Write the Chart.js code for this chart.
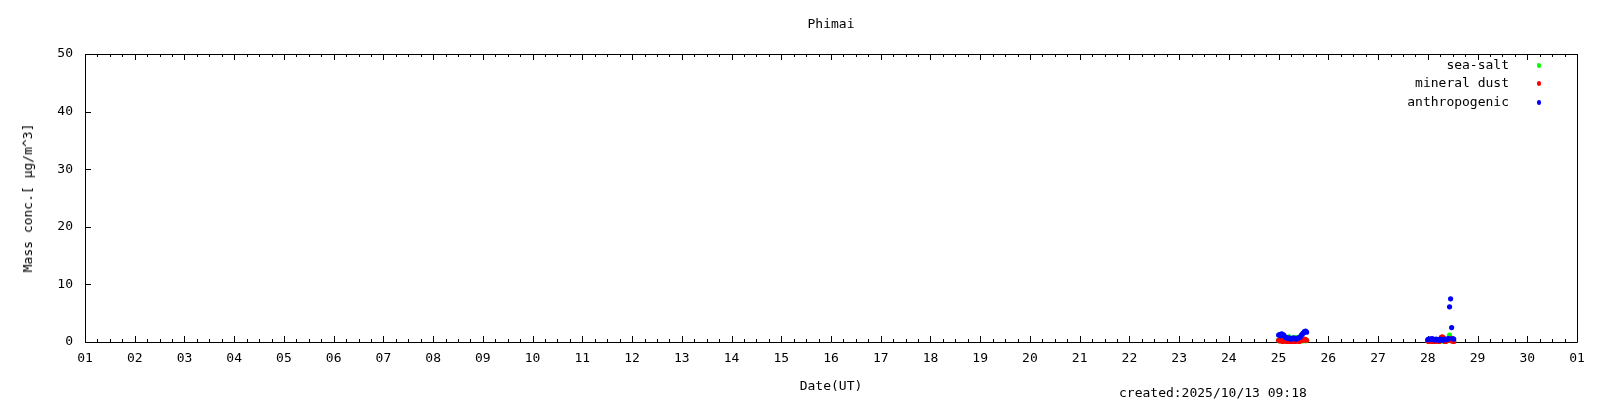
<!DOCTYPE html>
<html>
<head>
<meta charset="utf-8">
<script src="https://cdn.jsdelivr.net/npm/chart.js@4/dist/chart.umd.min.js"></script>
<style>
  html, body { margin: 0; padding: 0; background: #fff; }
  #wrap { position: relative; width: 1600px; height: 400px; overflow: hidden; font-family: "DejaVu Sans Mono", monospace; font-size: 13px; color: #000; }
  canvas { position: absolute; left: 0; top: 0; }
  .t { position: absolute; white-space: nowrap; line-height: 14px; }
  .dot { position: absolute; width: 4px; height: 5px; border-radius: 2px; }
</style>
</head>
<body>
<div id="wrap">
  <canvas id="c" width="1600" height="400"></canvas>
  <div class="t" id="title" style="left:831px; top:17px; transform:translateX(-50%);">Phimai</div>
  <div class="t" id="ytitle" style="left:28px; top:198px; transform:translate(-50%,-50%) rotate(-90deg);">Mass conc.[ μg/m^3]</div>
  <div class="t" id="xtitle" style="left:831px; top:379px; transform:translateX(-50%);">Date(UT)</div>
  <div class="t" id="created" style="left:1119px; top:386px;">created:2025/10/13 09:18</div>
  <div id="legend"></div>
</div>
<script>
// ---- Data (day of month, September 2025; 31 = Oct 01) ----
const categoriesDays = [1, 31];            // x range: Sep 01 .. Oct 01
const seriesNames = ['sea-salt', 'mineral dust', 'anthropogenic'];
const seriesColors = ['#00ff00', '#ff0000', '#0000ff'];

// cluster 1: 25.0 .. 25.5625 (30-min steps)
const times1 = [25.0000,25.0208,25.0417,25.0625,25.0833,25.1042,25.1250,25.1458,25.1667,25.1875,25.2083,25.2292,25.2500,25.2708,25.2917,25.3125,25.3333,25.3542,25.3750,25.3958,25.4167,25.4375,25.4583,25.4792,25.5000,25.5208,25.5417,25.5625];
const anthro1  = [1.2,1.3,1.1,1.4,1.3,1.2,0.9,0.8,0.7,0.6,0.7,0.6,0.5,0.6,0.7,0.6,0.6,0.5,0.6,0.7,0.8,0.9,1.2,1.4,1.6,1.8,1.9,1.7];
const dust1    = [0.3,0.2,0.3,0.2,0.1,0.2,0.3,0.2,0.1,0.2,0.1,0.2,0.2,0.1,0.3,0.2,0.1,0.2,0.3,0.2,0.1,0.2,0.3,0.4,0.3,0.5,0.4,0.3];
const seasalt1 = [0.3,0.2,0.3,0.2,0.3,0.2,0.3,0.3,0.4,0.5,0.9,0.4,0.3,0.3,0.4,0.5,0.8,0.4,0.3,0.3,0.2,0.3,0.3,0.2,0.3,0.3,0.2,0.3];

// cluster 2: 28.0 .. 28.5208 (30-min steps)
const times2 = [28.0000,28.0208,28.0417,28.0625,28.0833,28.1042,28.1250,28.1458,28.1667,28.1875,28.2083,28.2292,28.2500,28.2708,28.2917,28.3125,28.3333,28.3542,28.3750,28.3958,28.4167,28.4375,28.4583,28.4792,28.5000,28.5208];
const anthro2  = [0.4,0.5,0.5,0.4,0.6,0.5,0.4,0.4,0.5,0.4,0.3,0.4,0.5,0.4,0.3,0.4,0.4,0.5,0.4,0.5,0.6,6.1,7.5,2.5,0.6,0.5];
const dust2    = [0.2,0.1,0.2,0.3,0.2,0.1,0.2,0.1,0.2,0.3,0.2,0.1,0.3,0.8,0.9,0.7,0.2,0.1,0.2,0.3,0.5,0.6,0.3,0.2,0.4,0.1];
const seasalt2 = [0.2,0.1,0.2,0.2,0.3,0.2,0.1,0.2,0.2,0.3,0.2,0.1,0.2,0.2,0.3,0.2,0.1,0.2,0.3,0.2,0.3,1.2,0.3,0.2,0.2,0.1];

const yTicks = [0, 10, 20, 30, 40, 50];
const xTickLabels = ['01','02','03','04','05','06','07','08','09','10','11','12','13','14','15','16','17','18','19','20','21','22','23','24','25','26','27','28','29','30','01'];

function pts(ts, vs) { return ts.map((t, i) => ({ x: t, y: vs[i] })); }
const seriesValues = [
  pts(times1, seasalt1).concat(pts(times2, seasalt2)),
  pts(times1, dust1).concat(pts(times2, dust2)),
  pts(times1, anthro1).concat(pts(times2, anthro2))
];

// legend (HTML)
const leg = document.getElementById('legend');
const legY = [58, 76, 95];
seriesNames.forEach((n, i) => {
  const t = document.createElement('div');
  t.className = 't';
  t.textContent = n;
  t.style.right = (1600 - 1509) + 'px';
  t.style.top = legY[i] + 'px';
  leg.appendChild(t);
  const d = document.createElement('div');
  d.className = 'dot';
  d.style.background = seriesColors[i];
  d.style.left = '1537px';
  d.style.top = (legY[i] + 5) + 'px';
  leg.appendChild(d);
});

const framePlugin = {
  id: 'frame',
  beforeDatasetsDraw(chart) {
    const { ctx, chartArea: a, scales } = chart;
    const xs = scales.x, ys = scales.y;
    ctx.save();
    ctx.strokeStyle = '#000';
    ctx.lineWidth = 1;
    ctx.beginPath();
    ctx.rect(Math.round(a.left) + 0.5, Math.round(a.top) + 0.5, Math.round(a.right - a.left), Math.round(a.bottom - a.top));
    ctx.stroke();
    ctx.beginPath();
    // x ticks, bottom and top (inward), every 6 hours
    for (let k = 0; k <= (categoriesDays[1] - categoriesDays[0]) * 4; k++) {
      const v = categoriesDays[0] + k / 4;
      const px = Math.round(xs.getPixelForValue(v)) + 0.5;
      const len = (k % 4 === 0) ? 6 : 3;
      ctx.moveTo(px, a.bottom); ctx.lineTo(px, a.bottom - len);
      ctx.moveTo(px, a.top); ctx.lineTo(px, a.top + len);
    }
    // y ticks, left only
    yTicks.forEach(v => {
      const py = Math.round(ys.getPixelForValue(v)) + 0.5;
      ctx.moveTo(a.left, py); ctx.lineTo(a.left + 6, py);
    });
    ctx.stroke();
    ctx.restore();
  }
};

new Chart(document.getElementById('c'), {
  type: 'scatter',
  data: {
    datasets: seriesNames.map((n, i) => ({
      label: n,
      data: seriesValues[i],
      backgroundColor: seriesColors[i],
      borderColor: seriesColors[i],
      pointRadius: 2.6,
      pointBorderWidth: 0,
      pointStyle: 'circle',
      order: 2 - i,
      clip: false
    }))
  },
  options: {
    responsive: false,
    animation: false,
    devicePixelRatio: 1,
    layout: { padding: { top: 54, right: 23, left: 0, bottom: 0 } },
    plugins: { legend: { display: false }, tooltip: { enabled: false }, title: { display: false } },
    scales: {
      x: {
        type: 'linear',
        min: categoriesDays[0], max: categoriesDays[1],
        grid: { display: false, drawTicks: false },
        border: { display: false },
        afterFit(s) { s.height = 58; },
        afterBuildTicks(s) { s.ticks = xTickLabels.map((_, i) => ({ value: categoriesDays[0] + i })); },
        ticks: {
          autoSkip: false, maxRotation: 0, padding: 9, color: '#000',
          font: { family: 'DejaVu Sans Mono', size: 13 },
          callback: (v) => xTickLabels[Math.round(v - categoriesDays[0])]
        }
      },
      y: {
        min: 0, max: 50,
        grid: { display: false, drawTicks: false },
        border: { display: false },
        afterFit(s) { s.width = 85; },
        afterBuildTicks(s) { s.ticks = yTicks.map(v => ({ value: v })); },
        ticks: {
          padding: 12, color: '#000',
          font: { family: 'DejaVu Sans Mono', size: 13 }
        }
      }
    }
  },
  plugins: [framePlugin]
});
</script>
</body>
</html>
